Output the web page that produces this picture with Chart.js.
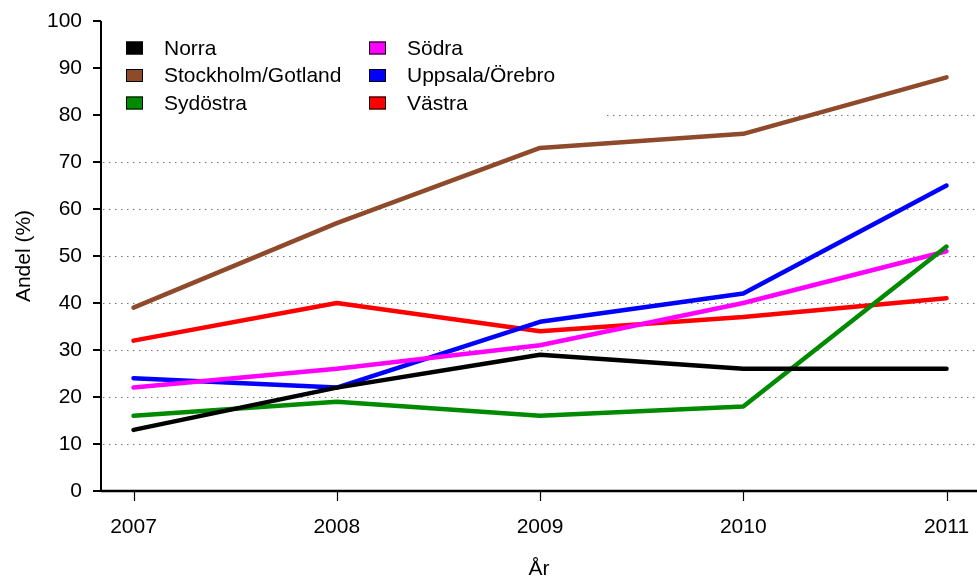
<!DOCTYPE html>
<html>
<head>
<meta charset="utf-8">
<script src="https://cdn.jsdelivr.net/npm/chart.js@4.4.1/dist/chart.umd.min.js"></script>
<style>
  body { margin: 0; background: #fff; }
  canvas { display: block; }
</style>
</head>
<body>
<canvas id="chart" width="977" height="584"></canvas>
<script>
const years = [2007, 2008, 2009, 2010, 2011];
const yTicks = [0, 10, 20, 30, 40, 50, 60, 70, 80, 90, 100];
const gridLevels = [10, 20, 30, 40, 50, 60, 70, 80];

const regions = ["Norra", "Stockholm/Gotland", "Sydöstra", "Södra", "Uppsala/Örebro", "Västra"];
const colors = ["#000000", "#8E4A2A", "#008A00", "#FF00FF", "#0000FF", "#FF0000"];

const norra = [13, 22, 29, 26, 26];
const stockholm = [39, 57, 73, 76, 88];
const sydostra = [16, 19, 16, 18, 52];
const sodra = [22, 26, 31, 40, 51];
const uppsala = [24, 22, 36, 42, 65];
const vastra = [32, 40, 34, 37, 41];

const series = [norra, stockholm, sydostra, sodra, uppsala, vastra];
const font = { family: "'Liberation Sans', Arial, sans-serif", size: 21 };

const axesPlugin = {
  id: "axes",
  beforeDatasetsDraw(chart) {
    const ctx = chart.ctx;
    const x = chart.scales.x;
    const y = chart.scales.y;
    const area = chart.chartArea;
    ctx.save();
    // dotted grid
    ctx.strokeStyle = "#777";
    ctx.lineWidth = 1;
    ctx.setLineDash([1.5, 4.5]);
    gridLevels.forEach((v) => {
      const py = Math.round(y.getPixelForValue(v)) + 0.5;
      ctx.beginPath();
      ctx.moveTo(area.left + 2, py);
      ctx.lineTo(area.right, py);
      ctx.stroke();
    });
    ctx.setLineDash([]);
    ctx.strokeStyle = "#000";
    // left axis
    ctx.lineWidth = 2;
    ctx.beginPath();
    ctx.moveTo(area.left, y.getPixelForValue(0));
    ctx.lineTo(area.left, y.getPixelForValue(100));
    ctx.stroke();
    yTicks.forEach((v) => {
      const py = y.getPixelForValue(v);
      ctx.beginPath();
      ctx.moveTo(area.left - 8, py);
      ctx.lineTo(area.left, py);
      ctx.stroke();
    });
    // bottom axis
    const by = y.getPixelForValue(0);
    ctx.lineWidth = 2.5;
    ctx.beginPath();
    ctx.moveTo(area.left, by);
    ctx.lineTo(area.right, by);
    ctx.stroke();
    ctx.lineWidth = 1.2;
    years.forEach((v) => {
      const px = Math.round(x.getPixelForValue(v)) + 0.5;
      ctx.beginPath();
      ctx.moveTo(px, by);
      ctx.lineTo(px, by + 10);
      ctx.stroke();
    });
    ctx.restore();
  },
};

const legendPlugin = {
  id: "boxLegend",
  afterDatasetsDraw(chart) {
    const ctx = chart.ctx;
    const area = chart.chartArea;
    ctx.save();
    ctx.fillStyle = "#fff";
    ctx.fillRect(area.left + 2, area.top, 603 - area.left - 2, 104);
    ctx.font = font.size + "px " + font.family;
    ctx.textBaseline = "middle";
    chart.data.datasets.forEach((ds, i) => {
      const col = Math.floor(i / 3);
      const row = i % 3;
      const bx = col === 0 ? 126 : 369;
      const cy = 48 + row * 27.5;
      ctx.fillStyle = ds.borderColor;
      ctx.fillRect(bx, cy - 6.5, 17, 13);
      ctx.strokeStyle = "#000";
      ctx.lineWidth = 1;
      ctx.strokeRect(bx + 0.5, cy - 6, 16, 12);
      ctx.fillStyle = "#000";
      ctx.fillText(ds.label, bx + 38, cy + 1);
    });
    ctx.restore();
  },
};

new Chart(document.getElementById("chart"), {
  type: "line",
  data: {
    datasets: regions.map((name, i) => ({
      label: name,
      data: years.map((yr, j) => ({ x: yr, y: series[i][j] })),
      borderColor: colors[i],
      backgroundColor: colors[i],
      borderWidth: 4.5,
      pointRadius: 0,
      tension: 0,
      borderCapStyle: "round",
      borderJoinStyle: "round",
    })),
  },
  options: {
    responsive: false,
    animation: false,
    layout: { padding: { top: 21, right: 0, left: 0, bottom: 0 } },
    plugins: {
      legend: { display: false },
      tooltip: { enabled: false },
    },
    scales: {
      x: {
        type: "linear",
        min: 2006.84,
        max: 2011.15,
        afterBuildTicks: (scale) => {
          scale.ticks = years.map((v) => ({ value: v }));
        },
        afterFit: (scale) => {
          scale.height = 93;
          scale.paddingLeft = 0;
          scale.paddingRight = 0;
        },
        grid: { display: false },
        border: { display: false },
        ticks: {
          color: "#000",
          font: font,
          padding: 16,
          maxRotation: 0,
          callback: (v) => String(v),
        },
        title: {
          display: true,
          text: "År",
          color: "#000",
          font: font,
          padding: { top: 0, bottom: 2 },
        },
      },
      y: {
        min: 0,
        max: 100,
        afterBuildTicks: (scale) => {
          scale.ticks = yTicks.map((v) => ({ value: v }));
        },
        afterFit: (scale) => {
          scale.width = 101;
          scale.paddingTop = 0;
          scale.paddingBottom = 0;
        },
        grid: { display: false },
        border: { display: false },
        ticks: {
          color: "#000",
          font: font,
          padding: 11,
          callback: (v) => String(v),
        },
        title: {
          display: true,
          text: "Andel (%)",
          color: "#000",
          font: font,
          padding: { top: 12, bottom: 0 },
        },
      },
    },
  },
  plugins: [axesPlugin, legendPlugin],
});
</script>
</body>
</html>
